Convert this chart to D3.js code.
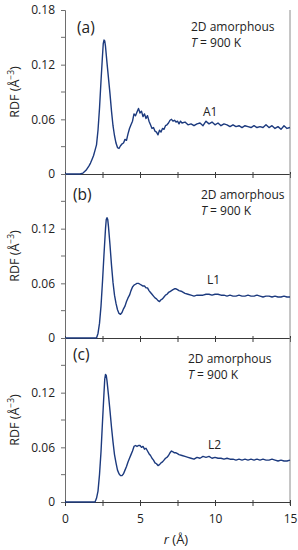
<!DOCTYPE html>
<html lang="en">
<head>
<meta charset="utf-8">
<title>RDF panels</title>
<script src="https://d3js.org/d3.v7.min.js"></script>
<style>
  body { margin: 0; background: #fff; }
  text { font-family: "Open Sans", "Liberation Sans", sans-serif; fill: #222; }
</style>
</head>
<body>
<script>
// --- data: [r (Å), RDF (Å^-3)] ---
var A1 = [[0,0],[1.0,0],[1.2,0.001],[1.4,0.004],[1.6,0.009],[1.7,0.012],[1.8,0.016],[1.9,0.02],[2.0,0.026],[2.1,0.032],
  [2.2,0.048],[2.3,0.072],[2.4,0.102],[2.5,0.13],[2.55,0.143],[2.6,0.147],[2.65,0.146],[2.7,0.14],[2.8,0.122],[2.9,0.105],
  [3.0,0.088],[3.1,0.069],[3.2,0.053],[3.3,0.042],[3.4,0.034],[3.5,0.029],[3.6,0.028],[3.7,0.031],[3.8,0.033],[3.9,0.034],
  [4.0,0.038],[4.1,0.037],[4.2,0.044],[4.3,0.05],[4.4,0.054],[4.5,0.058],[4.6,0.066],[4.7,0.064],[4.8,0.068],[4.9,0.072],
  [5.0,0.067],[5.1,0.069],[5.2,0.063],[5.3,0.066],[5.4,0.061],[5.5,0.064],[5.6,0.058],[5.7,0.054],[5.8,0.05],[5.9,0.051],
  [6.0,0.047],[6.1,0.046],[6.2,0.043],[6.3,0.048],[6.4,0.046],[6.5,0.05],[6.6,0.049],[6.7,0.053],[6.8,0.054],[6.9,0.056],
  [7.0,0.059],[7.1,0.06],[7.2,0.058],[7.3,0.059],[7.4,0.057],[7.5,0.058],[7.6,0.055],[7.7,0.058],[7.8,0.056],[8.0,0.057],
  [8.2,0.054],[8.4,0.055],[8.6,0.053],[8.8,0.055],[9.0,0.056],[9.2,0.053],[9.4,0.058],[9.6,0.055],[9.8,0.057],[10.0,0.054],
  [10.2,0.056],[10.4,0.053],[10.6,0.055],[10.8,0.054],[11.0,0.052],[11.2,0.054],[11.4,0.052],[11.6,0.053],[11.8,0.051],[12.0,0.053],
  [12.2,0.052],[12.4,0.051],[12.6,0.053],[12.8,0.051],[13.0,0.052],[13.2,0.051],[13.4,0.054],[13.6,0.051],[13.8,0.053],[14.0,0.05],
  [14.2,0.052],[14.4,0.049],[14.6,0.053],[14.8,0.05],[15.0,0.051]];

var L1 = [[0,0],[2.1,0],[2.2,0.005],[2.3,0.016],[2.4,0.035],[2.5,0.062],[2.6,0.092],[2.7,0.12],[2.75,0.13],[2.8,0.132],
  [2.85,0.13],[2.9,0.122],[3.0,0.102],[3.1,0.08],[3.2,0.061],[3.3,0.047],[3.4,0.038],[3.5,0.031],[3.6,0.027],[3.7,0.026],
  [3.8,0.028],[3.9,0.032],[4.0,0.035],[4.1,0.04],[4.2,0.044],[4.3,0.047],[4.4,0.052],[4.5,0.056],[4.6,0.058],[4.7,0.059],
  [4.8,0.06],[4.9,0.06],[5.0,0.059],[5.1,0.058],[5.2,0.057],[5.3,0.057],[5.4,0.055],[5.5,0.055],[5.6,0.052],[5.7,0.05],
  [5.8,0.048],[5.9,0.046],[6.0,0.044],[6.1,0.043],[6.2,0.041],[6.3,0.04],[6.4,0.042],[6.5,0.043],[6.6,0.045],[6.7,0.047],
  [6.8,0.048],[6.9,0.05],[7.0,0.051],[7.1,0.052],[7.2,0.053],[7.3,0.054],[7.4,0.054],[7.5,0.053],[7.6,0.052],[7.8,0.051],
  [8.0,0.049],[8.2,0.048],[8.4,0.047],[8.6,0.046],[8.8,0.047],[9.0,0.047],[9.2,0.047],[9.4,0.048],[9.6,0.048],[9.8,0.047],
  [10.0,0.048],[10.2,0.048],[10.4,0.047],[10.6,0.047],[10.8,0.046],[11.0,0.047],[11.2,0.046],[11.4,0.046],[11.6,0.047],[11.8,0.046],
  [12.0,0.046],[12.2,0.047],[12.4,0.046],[12.6,0.046],[12.8,0.047],[13.0,0.046],[13.2,0.045],[13.4,0.046],[13.6,0.046],[13.8,0.045],
  [14.0,0.046],[14.2,0.045],[14.4,0.045],[14.6,0.046],[14.8,0.045],[15.0,0.045]];

var L2 = [[0,0],[2.0,0],[2.1,0.004],[2.2,0.012],[2.3,0.03],[2.4,0.055],[2.5,0.088],[2.6,0.12],[2.65,0.135],[2.7,0.14],
  [2.75,0.139],[2.8,0.133],[2.9,0.117],[3.0,0.1],[3.1,0.082],[3.2,0.066],[3.3,0.052],[3.4,0.043],[3.5,0.035],[3.6,0.031],
  [3.7,0.029],[3.8,0.029],[3.9,0.031],[4.0,0.035],[4.1,0.039],[4.2,0.044],[4.3,0.048],[4.4,0.052],[4.5,0.056],[4.6,0.061],
  [4.7,0.062],[4.8,0.061],[4.9,0.062],[5.0,0.062],[5.1,0.06],[5.2,0.061],[5.3,0.058],[5.4,0.059],[5.5,0.056],[5.6,0.053],
  [5.7,0.051],[5.8,0.048],[5.9,0.046],[6.0,0.043],[6.1,0.042],[6.2,0.04],[6.3,0.041],[6.4,0.043],[6.5,0.044],[6.6,0.046],
  [6.7,0.048],[6.8,0.049],[6.9,0.051],[7.0,0.054],[7.1,0.056],[7.2,0.055],[7.3,0.054],[7.4,0.054],[7.5,0.053],[7.6,0.052],
  [7.8,0.051],[8.0,0.05],[8.2,0.049],[8.4,0.048],[8.6,0.047],[8.8,0.049],[9.0,0.048],[9.2,0.05],[9.4,0.049],[9.6,0.05],
  [9.8,0.048],[10.0,0.049],[10.2,0.048],[10.4,0.048],[10.6,0.047],[10.8,0.048],[11.0,0.047],[11.2,0.047],[11.4,0.046],[11.6,0.047],
  [11.8,0.046],[12.0,0.047],[12.2,0.046],[12.4,0.047],[12.6,0.046],[12.8,0.047],[13.0,0.046],[13.2,0.047],[13.4,0.046],[13.6,0.046],
  [13.8,0.047],[14.0,0.046],[14.2,0.045],[14.4,0.046],[14.6,0.045],[14.8,0.045],[15.0,0.046]];

var panelLetters = ["(a)", "(b)", "(c)"];
var seriesNames = ["A1", "L1", "L2"];
var yMajorTicks = [0, 0.06, 0.12, 0.18];
var yMinorTicks = [0.03, 0.09, 0.15];
var xTicks = [0, 2.5, 5, 7.5, 10, 12.5, 15];
var xTickLabels = [0, 5, 10, 15];

// layout
var w = 298, h = 550;
var left = 65, right = 290;
var top0 = 10, ph = 164;
var lineColor = "#1c3a7e";

// per-panel text placement (offsets from panel top)
var panels = [
  {data: A1, letter: [12, 23], note: [126, 21], name: [138, 106]},
  {data: L1, letter: [8, 26], note: [136, 25], name: [142, 110]},
  {data: L2, letter: [8, 22], note: [123, 25], name: [143, 111]}
];

var svg = d3.select("body").append("svg").attr("width", w).attr("height", h);

var x = d3.scaleLinear().domain([0, 15]).range([left, right]);

panels.forEach(function(p, i) {
  var t = top0 + i * ph;
  var y = d3.scaleLinear().domain([0, 0.18]).range([t + ph, t]);
  var g = svg.append("g");

  // right border
  g.append("line")
    .attr("x1", right).attr("x2", right)
    .attr("y1", t).attr("y2", t + ph + (i == 2 ? 3 : 0))
    .attr("stroke", "#8c8c8c").attr("stroke-width", 1);

  // y axis
  var yAxis = d3.axisLeft(y).tickValues(yMajorTicks).tickSize(4).tickPadding(6)
    .tickFormat(function(d) { return d == 0 ? "0" : d3.format(".2f")(d); });
  var ya = g.append("g").attr("transform", "translate(" + left + ",0)").call(yAxis);
  ya.select(".domain").attr("stroke", "#6e6e6e");
  ya.selectAll(".tick line").attr("stroke", "#6e6e6e");
  ya.selectAll("text").attr("font-size", 12).attr("fill", "#222")
    .attr("font-family", "Open Sans, sans-serif");
  if (i > 0) ya.selectAll(".tick").filter(function(d) { return d == 0.18; }).select("text").remove();

  g.selectAll(".ymin").data(yMinorTicks).enter().append("line")
    .attr("x1", left - 4).attr("x2", left)
    .attr("y1", function(d) { return y(d); }).attr("y2", function(d) { return y(d); })
    .attr("stroke", "#6e6e6e");

  // x axis at zero
  var xAxis = d3.axisBottom(x).tickValues(xTicks).tickSizeInner(4).tickSizeOuter(0)
    .tickPadding(8).tickFormat(function(d) { return xTickLabels.indexOf(d) >= 0 ? d : ""; });
  var xa = g.append("g").attr("transform", "translate(0," + y(0) + ")").call(xAxis);
  xa.select(".domain").attr("stroke", "#3a3a3a").attr("stroke-width", 1.2);
  xa.selectAll(".tick line").attr("stroke", "#3a3a3a").attr("y1", -2);
  xa.selectAll("text").attr("font-size", 12).attr("fill", "#222")
    .attr("font-family", "Open Sans, sans-serif");
  if (i < 2) xa.selectAll("text").remove();

  // curve
  g.append("path")
    .datum(p.data)
    .attr("fill", "none")
    .attr("stroke", lineColor)
    .attr("stroke-width", 1.4)
    .attr("stroke-linejoin", "round")
    .attr("d", d3.line().x(function(d) { return x(d[0]); }).y(function(d) { return y(d[1]); }));

  // y label
  var yl = g.append("text")
    .attr("transform", "translate(19," + (t + ph / 2) + ") rotate(-90)")
    .attr("text-anchor", "middle").attr("font-size", 12.5);
  yl.append("tspan").text("RDF (Å");
  yl.append("tspan").attr("dy", -5).attr("font-size", 8.5).text("\u22123");
  yl.append("tspan").attr("dy", 5).text(")");

  // panel letter
  g.append("text").attr("x", left + p.letter[0]).attr("y", t + p.letter[1])
    .attr("font-size", 15.5).text(panelLetters[i]);

  // note
  g.append("text").attr("x", left + p.note[0]).attr("y", t + p.note[1])
    .attr("font-size", 12).text("2D amorphous");
  var tn = g.append("text").attr("x", left + p.note[0]).attr("y", t + p.note[1] + 16)
    .attr("font-size", 12);
  tn.append("tspan").attr("font-style", "italic").text("T");
  tn.append("tspan").text(" = 900 K");

  // series name
  g.append("text").attr("x", left + p.name[0]).attr("y", t + p.name[1])
    .attr("font-size", 12).text(seriesNames[i]);
});

// x label
var xl = svg.append("text").attr("x", 176).attr("y", 544)
  .attr("text-anchor", "middle").attr("font-size", 13);
xl.append("tspan").attr("font-style", "italic").text("r");
xl.append("tspan").text(" (Å)");
</script>
</body>
</html>
